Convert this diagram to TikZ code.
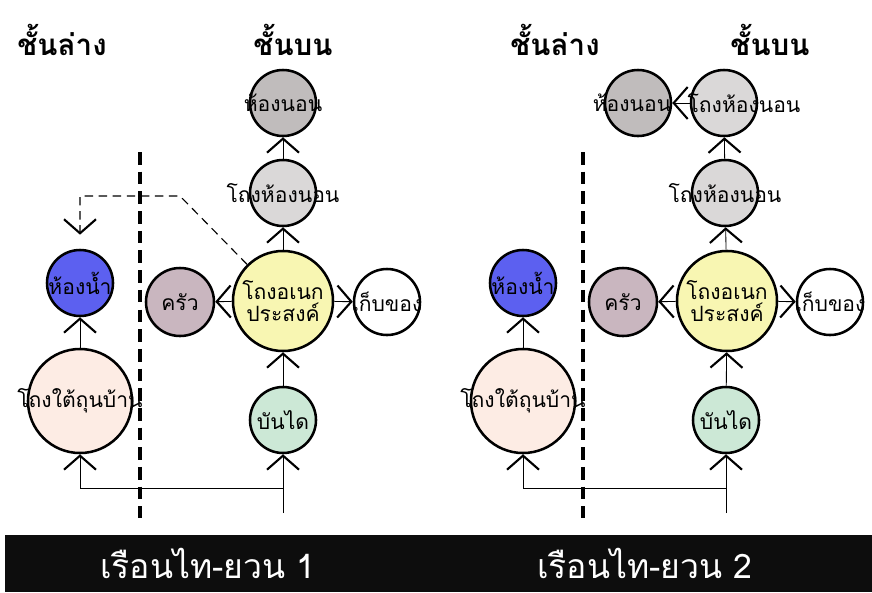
\documentclass[tikz,border=0pt]{standalone}
\usepackage{fontspec}
\newfontfamily\thaifont[Script=Thai]{Loma}
\usetikzlibrary{arrows.meta}
\definecolor{mybed}{RGB}{192,188,188}
\definecolor{myhall}{RGB}{218,216,216}
\definecolor{myhub}{RGB}{248,246,178}
\definecolor{mykitchen}{RGB}{201,182,191}
\definecolor{mybath}{RGB}{92,96,240}
\definecolor{myunder}{RGB}{253,236,228}
\definecolor{mystair}{RGB}{204,232,214}
\definecolor{mybanner}{RGB}{13,13,13}
\newcommand{\roomline}[2][0pt]{\makebox[0pt]{\kern#1#2\kern-#1}}
\tikzset{
  room/.style={circle,draw=black,line width=1.8pt,inner sep=0pt,minimum size=1.65cm,
    align=center,font=\thaifont\fontsize{15}{16}\selectfont},
  bigroom/.style={room,minimum size=2.5cm},
  hugeroom/.style={room,minimum size=2.6cm},
  flow/.style={-{Straight Barb[length=3.5mm,width=8mm,line width=1.5pt]},line width=0.6pt},
  link/.style={flow,dashed,dash pattern=on 6pt off 4pt,line width=0.8pt},
  divider/.style={line width=2.8pt,dash pattern=on 9pt off 5pt},
  floortitle/.style={font=\thaifont\bfseries\fontsize{21}{24}\selectfont,anchor=base},
  housetitle/.style={font=\thaifont\fontsize{24}{28}\selectfont,text=white,inner sep=0pt},
}
\begin{document}
\begin{tikzpicture}[x=0.025cm,y=-0.025cm]
  \useasboundingbox (0,0) rectangle (872,592);
  \fill[mybanner] (5,535) rectangle (872,592);
  \node[housetitle] (nameA) at (208,563) {เรือนไท-ยวน 1};
  \node[housetitle] (nameB) at (645,563) {เรือนไท-ยวน 2};

  \node[floortitle] (lowA) at (62,55) {ชั้นล่าง};
  \node[floortitle] (upA) at (293,55) {ชั้นบน};
  \node[floortitle] (lowB) at (555,55) {ชั้นล่าง};
  \node[floortitle] (upB) at (770,55) {ชั้นบน};

  \draw[divider] (140,152) -- (140,518);
  \draw[divider] (583,152) -- (583,518);

  \node[room,fill=mybed] (bedA) at (283,103) {\roomline{ห้องนอน}};
  \node[room,fill=myhall] (hallA) at (283,193) {\roomline{โถงห้องนอน}};
  \node[bigroom,fill=myhub] (hubA) at (283,301) {\roomline{โถงอเนก}\\\roomline{ประสงค์}};
  \node[room,fill=mykitchen,minimum size=1.7cm] (kitchenA) at (180,302) {\roomline{ครัว}};
  \node[room,fill=white] (storeA) at (387,302) {\roomline{เก็บของ}};
  \node[room,fill=mybath] (bathA) at (80,283) {\roomline{ห้องน้ำ}};
  \node[hugeroom,fill=myunder] (underA) at (80,401) {\roomline{โถงใต้ถุนบ้าน}};
  \node[room,fill=mystair] (stairA) at (283,420) {\roomline{บันได}};
  \coordinate (entryA) at (283,513);
  \coordinate (forkA) at (283,488);
  \coordinate (bendA) at (180,196);

  \draw[flow] (hallA) -- (bedA);
  \draw[flow] (hubA) -- (hallA);
  \draw[flow] (hubA) -- (kitchenA);
  \draw[flow] (hubA) -- (storeA);
  \draw[flow] (stairA) -- (hubA);
  \draw[flow] (underA) -- (bathA);
  \draw[line width=0.6pt] (entryA) -- (forkA);
  \draw[flow] (forkA) -- (stairA);
  \draw[flow] (forkA) -| (underA);
  \draw[link,shorten >=10pt] (hubA) -- (bendA) -| (bathA);

  \node[room,fill=mybed] (bedB) at (638,103) {\roomline[-0.15cm]{ห้องนอน}};
  \node[room,fill=myhall] (tophallB) at (724,103) {\roomline[0.5cm]{โถงห้องนอน}};
  \node[room,fill=myhall] (hallB) at (725,193) {\roomline{โถงห้องนอน}};
  \node[bigroom,fill=myhub] (hubB) at (727,301) {\roomline{โถงอเนก}\\\roomline{ประสงค์}};
  \node[room,fill=mykitchen,minimum size=1.7cm] (kitchenB) at (623,302) {\roomline{ครัว}};
  \node[room,fill=white] (storeB) at (830,302) {\roomline{เก็บของ}};
  \node[room,fill=mybath] (bathB) at (523,283) {\roomline{ห้องน้ำ}};
  \node[hugeroom,fill=myunder] (underB) at (523,401) {\roomline{โถงใต้ถุนบ้าน}};
  \node[room,fill=mystair] (stairB) at (726,420) {\roomline{บันได}};
  \coordinate (entryB) at (726,513);
  \coordinate (forkB) at (726,488);

  \draw[flow] (tophallB) -- (bedB);
  \draw[flow] (hallB) -- (tophallB);
  \draw[flow] (hubB) -- (hallB);
  \draw[flow] (hubB) -- (kitchenB);
  \draw[flow] (hubB) -- (storeB);
  \draw[flow] (stairB) -- (hubB);
  \draw[flow] (underB) -- (bathB);
  \draw[line width=0.6pt] (entryB) -- (forkB);
  \draw[flow] (forkB) -- (stairB);
  \draw[flow] (forkB) -| (underB);
\end{tikzpicture}
\end{document}
